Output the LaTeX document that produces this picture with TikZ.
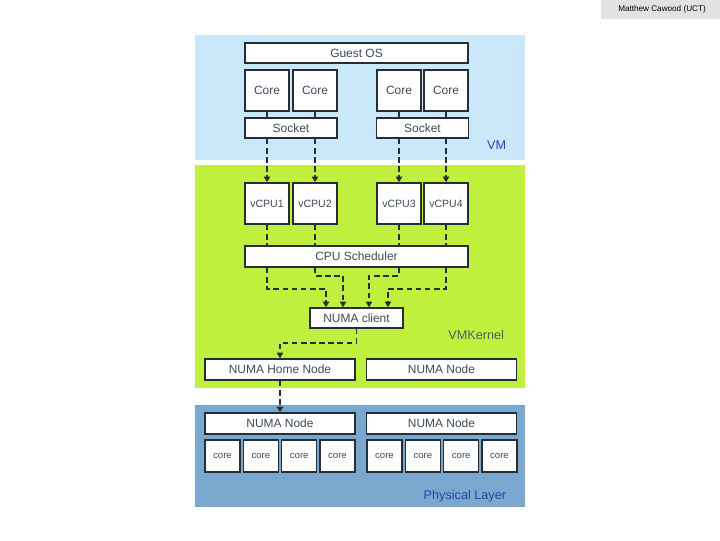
\documentclass[tikz,border=0pt]{standalone}
\usepackage{fontspec}
\setmainfont{Liberation Sans}
\usepackage{tikz}
\usetikzlibrary{arrows.meta, positioning, calc}
\definecolor{vmblue}{RGB}{201, 233, 251}
\definecolor{kernelgreen}{RGB}{192, 240, 62}
\definecolor{physblue}{RGB}{122, 167, 205}
\definecolor{boxline}{RGB}{40, 44, 52}
\definecolor{boxtext}{RGB}{60, 75, 92}
\definecolor{kerneltext}{RGB}{80, 92, 100}
\definecolor{labelblue}{RGB}{50, 64, 170}
\definecolor{creditgray}{RGB}{226, 226, 226}

\begin{document}
\begin{tikzpicture}[
    x=0.025cm, y=-0.025cm,
    box/.style={rectangle, draw=boxline, fill=white, line width=1.1pt, inner sep=0pt, text=boxtext, font=\fontsize{8.5}{10}\selectfont},
    wide/.style={box, minimum width=5.575cm, minimum height=0.5cm},
    corebox/.style={box, minimum width=1.1cm, minimum height=1.025cm},
    vcpubox/.style={corebox, font=\fontsize{7.5}{9}\selectfont},
    sockbox/.style={box, minimum width=2.3cm, minimum height=0.5cm},
    numabox/.style={box, minimum width=3.75cm, minimum height=0.525cm},
    pcore/.style={box, minimum width=0.875cm, minimum height=0.8cm, font=\fontsize{6.8}{8}\selectfont},
    layer/.style={anchor=east, font=\fontsize{9}{10}\selectfont},
    link/.style={boxline, line width=0.9pt},
    dashline/.style={boxline, line width=1.3pt, dash pattern=on 4pt off 2.5pt},
    dasharrow/.style={dashline, -{Triangle[length=4pt, width=4.5pt]}}
]
    \useasboundingbox (0,0) rectangle (720,540);

    % credit
    \fill[creditgray] (601,0) rectangle (720,19);
    \node (credit) at (662,9) {\fontsize{5.8}{6}\selectfont Matthew Cawood (UCT)};

    % layers
    \fill[vmblue] (195,35) rectangle (525,160);
    \fill[kernelgreen] (195,165) rectangle (525,388);
    \fill[physblue] (195,405) rectangle (525,507);

    % VM
    \node (guest) [wide] at (356.5,53) {Guest OS};
    \node (c1) [corebox] at (267,90.5) {Core};
    \node (c2) [corebox] at (315,90.5) {Core};
    \node (c3) [corebox] at (399,90.5) {Core};
    \node (c4) [corebox] at (446,90.5) {Core};
    \node (s1) [sockbox] at (291,128) {Socket};
    \node (s2) [sockbox] at (422.5,128) {Socket};
    \node (vm) [layer, text=labelblue] at (511,145) {VM};

    % VMKernel
    \node (v1) [vcpubox] at (267,203.5) {vCPU1};
    \node (v2) [vcpubox] at (315,203.5) {vCPU2};
    \node (v3) [vcpubox] at (399,203.5) {vCPU3};
    \node (v4) [vcpubox] at (446,203.5) {vCPU4};
    \node (sched) [wide, minimum height=0.525cm] at (356.5,256.5) {CPU Scheduler};
    \node (client) [box, minimum width=2.325cm, minimum height=0.5cm] at (356.5,318) {NUMA client};
    \node (kernel) [layer, text=kerneltext] at (509,335) {VMKernel};
    \node (home) [numabox] at (280,369.5) {NUMA Home Node};
    \node (vnode) [numabox] at (441.5,369.5) {NUMA Node};

    % Physical layer
    \node (pn1) [numabox] at (280,423.5) {NUMA Node};
    \node (pn2) [numabox] at (441.5,423.5) {NUMA Node};
    \foreach \i/\x in {1/222.5, 2/260.8, 3/299.2, 4/337.5, 5/384.5, 6/422.8, 7/461.2, 8/499.5}
        \node (p\i) [pcore] at (\x,456) {core};
    \node (phys) [layer, text=labelblue] at (511,496) {Physical Layer};

    % connectors
    \draw [link] (c1.south) -- (c1.south |- s1.north);
    \draw [link] (c2.south) -- (c2.south |- s1.north);
    \draw [link] (c3.south) -- (c3.south |- s2.north);
    \draw [link] (c4.south) -- (c4.south |- s2.north);

    \draw [dasharrow] (c1.south |- s1.south) -- (v1.north);
    \draw [dasharrow] (c2.south |- s1.south) -- (v2.north);
    \draw [dasharrow] (c3.south |- s2.south) -- (v3.north);
    \draw [dasharrow] (c4.south |- s2.south) -- (v4.north);

    \foreach \v in {v1, v2, v3, v4}
        \draw [dashline] (\v.south) -- (\v.south |- sched.north);

    \draw [dasharrow] (v1.south |- sched.south) -- ++(0,21) -| ($(client.north)+(-30.5,0)$);
    \draw [dasharrow] (v2.south |- sched.south) -- ++(0,8) -| ($(client.north)+(-13.5,0)$);
    \draw [dasharrow] (v3.south |- sched.south) -- ++(0,8) -| ($(client.north)+(12.5,0)$);
    \draw [dasharrow] (v4.south |- sched.south) -- ++(0,21) -| ($(client.north)+(31.5,0)$);

    \draw [dasharrow] (client.south) -- ++(0,14) -| (home.north);
    \draw [dasharrow] (home.south) -- (pn1.north);
\end{tikzpicture}
\end{document}
